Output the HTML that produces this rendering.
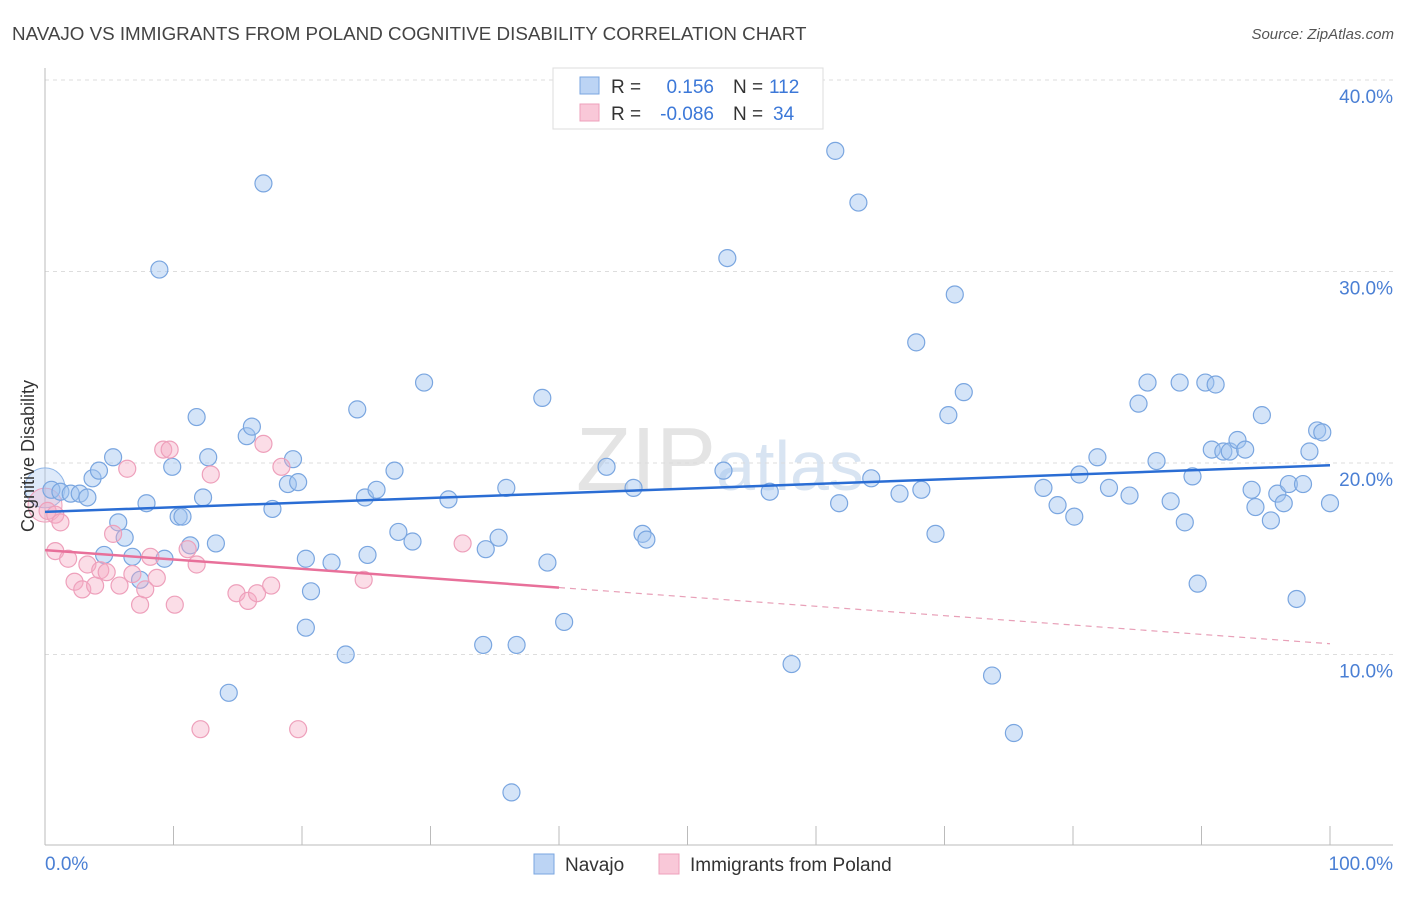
<!DOCTYPE html>
<html><head><meta charset="utf-8"><style>
body{margin:0;background:#fff;font-family:"Liberation Sans",sans-serif;}
svg text{font-family:"Liberation Sans",sans-serif;}
</style></head><body>
<svg id="chart" width="1406" height="892" viewBox="0 0 1406 892" xmlns="http://www.w3.org/2000/svg">
<text x="12" y="40" font-size="18.8" fill="#444">NAVAJO VS IMMIGRANTS FROM POLAND COGNITIVE DISABILITY CORRELATION CHART</text>
<text x="1394" y="39" font-size="15" fill="#555" text-anchor="end" font-style="italic">Source: ZipAtlas.com</text>
<text x="720" y="490" font-size="90" fill="#e4e4e4" text-anchor="middle" font-family="Liberation Serif, serif">ZIP<tspan font-family="Liberation Sans, sans-serif" font-size="70" fill="#d8e4f2">atlas</tspan></text>
<g id="grid"></g>
<g id="axes"></g>
<g id="marks"></g>
<text transform="translate(34,456) rotate(-90)" font-size="18" fill="#333" text-anchor="middle">Cognitive Disability</text>
<g>
<rect x="553" y="68" width="270" height="61" fill="#fff" stroke="#ddd"/>
<rect x="580" y="77" width="19" height="17" fill="#bcd4f4" stroke="#7aa6e0"/>
<rect x="580" y="104" width="19" height="17" fill="#f9c8d8" stroke="#eea0bb"/>
<text x="611" y="93" font-size="19" fill="#333">R =</text>
<text x="714" y="93" font-size="19" fill="#3c78d8" text-anchor="end">0.156</text>
<text x="733" y="93" font-size="19" fill="#333">N =</text>
<text x="769" y="93" font-size="19" fill="#3c78d8">112</text>
<text x="611" y="120" font-size="19" fill="#333">R =</text>
<text x="714" y="120" font-size="19" fill="#3c78d8" text-anchor="end">-0.086</text>
<text x="733" y="120" font-size="19" fill="#333">N =</text>
<text x="773" y="120" font-size="19" fill="#3c78d8">34</text>
</g>
<g>
<rect x="534" y="854" width="20" height="20" fill="#bcd4f4" stroke="#7aa6e0"/>
<text x="565" y="871" font-size="19" fill="#333">Navajo</text>
<rect x="659" y="854" width="20" height="20" fill="#f9c8d8" stroke="#eea0bb"/>
<text x="690" y="871" font-size="19" fill="#333">Immigrants from Poland</text>
</g>
</svg>
<script>
const yTicks=[10,20,30,40];
const yTickLabels=["10.0%","20.0%","30.0%","40.0%"];
const navajoX=[0.5,1.2,2.0,2.7,3.3,3.7,4.2,5.3,5.7,6.2,4.6,6.8,7.4,7.9,8.9,9.3,9.9,10.4,10.7,11.3,11.8,12.3,12.7,13.3,14.3,15.7,16.1,17.0,17.7,18.9,19.3,19.7,20.3,20.7,20.3,22.3,23.4,24.3,24.9,25.1,25.8,27.2,27.5,28.6,29.5,31.4,34.1,34.3,35.3,35.9,36.3,36.7,38.7,39.1,40.4,43.7,45.8,46.5,46.8,52.8,53.1,56.4,58.1,61.5,61.8,63.3,64.3,66.5,67.8,68.2,69.3,70.3,70.8,71.5,73.7,75.4,77.7,78.8,80.1,80.5,81.9,82.8,84.4,85.1,85.8,86.5,87.6,88.3,88.7,89.3,89.7,90.3,90.8,91.1,91.7,92.2,92.8,93.4,93.9,94.2,94.7,95.4,95.9,96.4,96.8,97.4,97.9,98.4,99.0,99.4,100];
const navajoY=[18.6,18.5,18.4,18.4,18.2,19.2,19.6,20.3,16.9,16.1,15.2,15.1,13.9,17.9,30.1,15.0,19.8,17.2,17.2,15.7,22.4,18.2,20.3,15.8,8.0,21.4,21.9,34.6,17.6,18.9,20.2,19.0,15.0,13.3,11.4,14.8,10.0,22.8,18.2,15.2,18.6,19.6,16.4,15.9,24.2,18.1,10.5,15.5,16.1,18.7,2.8,10.5,23.4,14.8,11.7,19.8,18.7,16.3,16.0,19.6,30.7,18.5,9.5,36.3,17.9,33.6,19.2,18.4,26.3,18.6,16.3,22.5,28.8,23.7,8.9,5.9,18.7,17.8,17.2,19.4,20.3,18.7,18.3,23.1,24.2,20.1,18.0,24.2,16.9,19.3,13.7,24.2,20.7,24.1,20.6,20.6,21.2,20.7,18.6,17.7,22.5,17.0,18.4,17.9,18.9,12.9,18.9,20.6,21.7,21.6,17.9];
const polandX=[0.2,0.8,1.2,0.8,1.8,2.3,2.9,3.3,3.9,4.3,4.8,5.3,5.8,6.4,6.8,7.4,7.8,8.2,8.7,9.2,9.7,10.1,11.1,11.8,12.1,12.9,14.9,15.8,16.5,17.0,17.6,18.4,19.7,24.8,32.5];
const polandY=[17.5,17.3,16.9,15.4,15.0,13.8,13.4,14.7,13.6,14.4,14.3,16.3,13.6,19.7,14.2,12.6,13.4,15.1,14.0,20.7,20.7,12.6,15.5,14.7,6.1,19.4,13.2,12.8,13.2,21.0,13.6,19.8,6.1,13.9,15.8];

const NS='http://www.w3.org/2000/svg';
const X0=45,X1=1330,Y0=846,YP=19.15;
const sx=v=>X0+(X1-X0)*v/100;
const sy=v=>Y0-v*YP;
function mk(tag,attrs,parent){const e=document.createElementNS(NS,tag);for(const k in attrs)e.setAttribute(k,attrs[k]);parent.appendChild(e);return e;}
const grid=document.getElementById('grid'),axes=document.getElementById('axes'),marks=document.getElementById('marks');
yTicks.forEach((t,i)=>{
  const l=mk('line',{x1:45,x2:1393,y1:sy(t),y2:sy(t),stroke:'#ddd','stroke-dasharray':'4,4'},grid);
  
  
  const tx=mk('text',{x:1393,y:sy(t)+23,'font-size':19,fill:'#4a7fd4','text-anchor':'end'},axes);
  tx.textContent=yTickLabels[i];
  
  
});
mk('line',{x1:45,x2:45,y1:68,y2:845,stroke:'#bbb'},axes);
mk('line',{x1:45,x2:1393,y1:845,y2:845,stroke:'#bbb'},axes);
for(let i=0;i<=10;i++){const l=mk('line',{x1:sx(i*10),x2:sx(i*10),y1:826,y2:845,stroke:'#bbb'},axes);
  
  }
const xl=mk('text',{x:45,y:870,'font-size':19,fill:'#4a7fd4'},axes);xl.textContent='0.0%';


const xr=mk('text',{x:1393,y:870,'font-size':19,fill:'#4a7fd4','text-anchor':'end'},axes);xr.textContent='100.0%';



mk('circle',{cx:45,cy:sy(18.7),r:20,fill:'rgba(160,196,240,0.35)',stroke:'#8fb6e8'},marks);
mk('circle',{cx:45,cy:sy(17.8),r:17,fill:'rgba(244,170,195,0.3)',stroke:'#eea0bb'},marks);
navajoX.forEach((x,i)=>{const c=mk('circle',{cx:sx(x),cy:sy(navajoY[i]),r:8.5,fill:'rgba(160,196,240,0.45)',stroke:'#7aa6e0','stroke-width':1.2},marks);
  
  });
polandX.forEach((x,i)=>{const c=mk('circle',{cx:sx(x),cy:sy(polandY[i]),r:8.5,fill:'rgba(244,170,195,0.4)',stroke:'#eea0bb','stroke-width':1.2},marks);
  
  });
function reg(xs,ys){const n=xs.length;let mx=0,my=0;xs.forEach((x,i)=>{mx+=x;my+=ys[i];});mx/=n;my/=n;let a=0,b=0;xs.forEach((x,i)=>{a+=(x-mx)*(ys[i]-my);b+=(x-mx)*(x-mx);});const s=a/b;return [my-s*mx,s];}
const [nb,ns]=reg(navajoX,navajoY);
const tl=mk('line',{x1:sx(0),y1:sy(nb),x2:sx(100),y2:sy(nb+ns*100),stroke:'#2a6dd4','stroke-width':2.5},marks);


const [pb,ps]=reg(polandX,polandY);
const pmax=40;
const pl=mk('line',{x1:sx(0),y1:sy(pb),x2:sx(pmax),y2:sy(pb+ps*pmax),stroke:'#e8709a','stroke-width':2.5},marks);


const pd=mk('line',{x1:sx(pmax),y1:sy(pb+ps*pmax),x2:sx(100),y2:sy(pb+ps*100),stroke:'#e8a0b8','stroke-width':1.2,'stroke-dasharray':'6,5'},marks);


</script>
</body></html>
